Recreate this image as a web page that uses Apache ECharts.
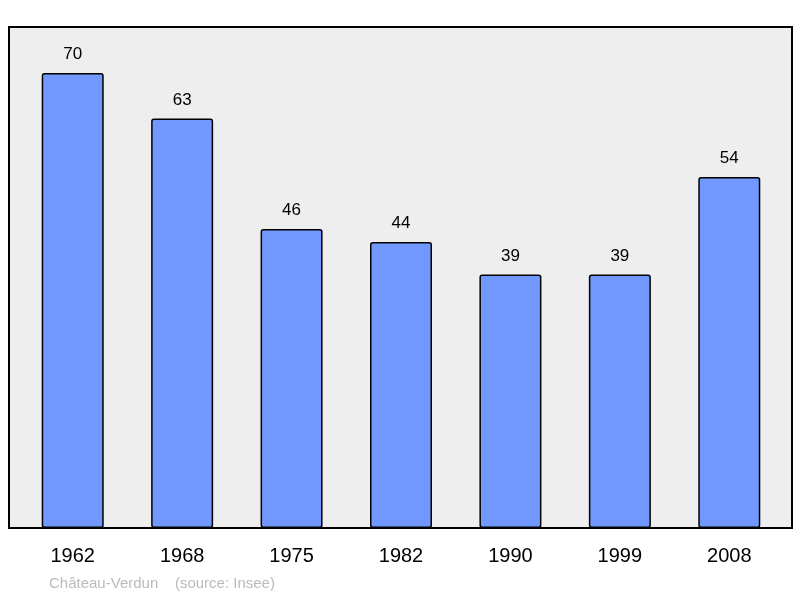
<!DOCTYPE html>
<html>
<head>
<meta charset="utf-8">
<script src="https://cdn.jsdelivr.net/npm/echarts@6/dist/echarts.min.js"></script>
<style>html,body{margin:0;padding:0;background:#fff}#chart{width:800px;height:598px}</style>
</head>
<body>
<div id="chart"></div>
<script>
var years = ['1962', '1968', '1975', '1982', '1990', '1999', '2008'];
var population = [70, 63, 46, 44, 39, 39, 54];

var myChart = echarts.init(document.getElementById('chart'));
myChart.setOption({
    animation: false,
    textStyle: { fontFamily: 'Liberation Sans, Arial, sans-serif' },
    graphic: [
        {
            type: 'rect', z: -10,
            shape: { x: 9, y: 27, width: 783, height: 501 },
            style: { fill: '#eeeeee', stroke: '#000', lineWidth: 2 }
        },
        {
            type: 'text', left: 49, top: 576,
            style: { text: 'Château-Verdun    (source: Insee)', fill: '#bbbbbb', font: '15px Liberation Sans, Arial, sans-serif' }
        }
    ],
    grid: { left: 18, right: 16, top: 27, bottom: 70 },
    xAxis: {
        type: 'category',
        data: years,
        axisLine: { show: false },
        axisTick: { show: false },
        axisLabel: { color: '#000', fontSize: 20, margin: 18 }
    },
    yAxis: {
        type: 'value', min: 0, max: 77.08,
        show: false
    },
    series: [{
        type: 'bar',
        data: population,
        barWidth: 62,
        itemStyle: { color: '#7098ff', borderColor: '#000', borderWidth: 1.5, borderRadius: 2 },
        label: { show: true, position: 'top', distance: 10, color: '#000', fontSize: 17 }
    }]
});
</script>
</body>
</html>
